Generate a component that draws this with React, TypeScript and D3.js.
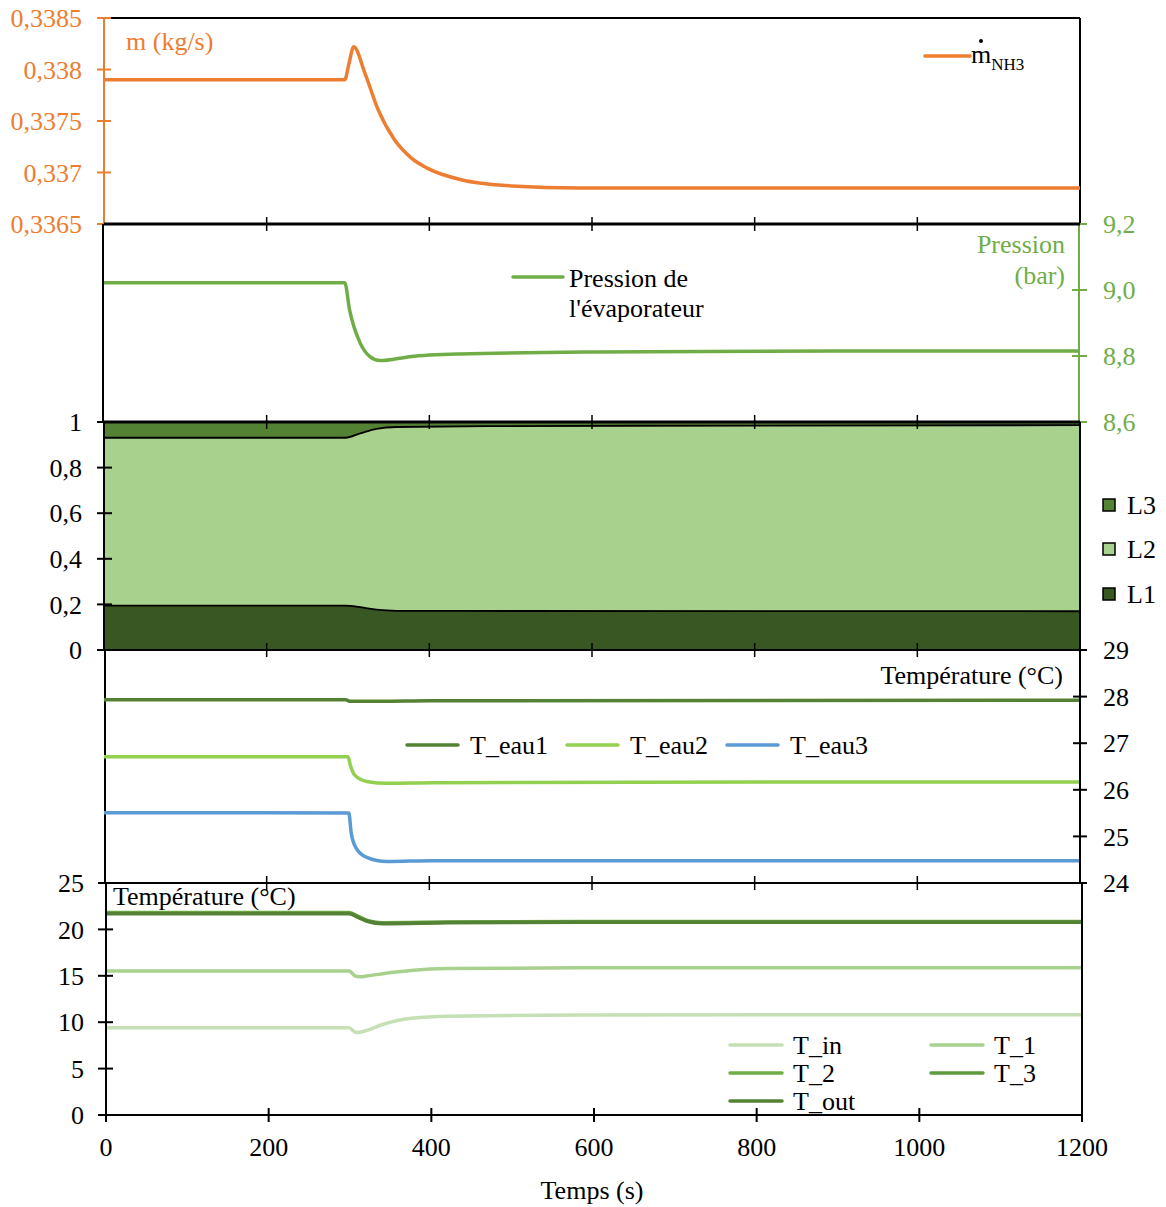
import React from 'react';
import * as d3 from 'd3';

// ---------- DATA ----------
const xTicks = [0, 200, 400, 600, 800, 1000, 1200];

const massTime = [0, 296, 301, 307, 321, 337, 357, 378, 398, 439, 501, 583, 706, 1200];
const massFlow = [0.3379, 0.3379, 0.33805, 0.33822, 0.33796, 0.33761, 0.33732, 0.33714, 0.33704, 0.33693, 0.33687, 0.33685, 0.33685, 0.33685];
const massTicks = [0.3365, 0.337, 0.3375, 0.338, 0.3385];
const massTickLabels = ['0,3365', '0,337', '0,3375', '0,338', '0,3385'];

const pressTime = [0, 296, 302, 315, 327, 339, 376, 438, 600, 900, 1200];
const pressure = [9.022, 9.022, 8.939, 8.839, 8.798, 8.786, 8.798, 8.806, 8.812, 8.815, 8.815];
const pressTicks = [8.6, 8.8, 9.0, 9.2];
const pressTickLabels = ['8,6', '8,8', '9,0', '9,2'];

const levelTime = [0, 297, 315, 335, 360, 500, 1200];
const levelL1 = [0.195, 0.195, 0.188, 0.177, 0.172, 0.171, 0.170];
const levelL2 = [0.736, 0.736, 0.762, 0.793, 0.806, 0.811, 0.816];
const levelL3 = [0.069, 0.069, 0.050, 0.030, 0.022, 0.018, 0.014];
const fracTicks = [0, 0.2, 0.4, 0.6, 0.8, 1];
const fracTickLabels = ['0', '0,2', '0,4', '0,6', '0,8', '1'];

const eau1Time = [0, 297, 303, 340, 400, 1200];
const eau1 = [27.93, 27.93, 27.90, 27.90, 27.91, 27.92];
const eau2Time = [0, 300, 303, 308, 323, 348, 405, 856, 1200];
const eau2 = [26.71, 26.71, 26.52, 26.32, 26.18, 26.14, 26.15, 26.17, 26.17];
const eau3Time = [0, 301, 304, 310, 323, 348, 405, 856, 1200];
const eau3 = [25.51, 25.50, 25.07, 24.75, 24.55, 24.46, 24.48, 24.48, 24.48];
const eauTicks = [24, 25, 26, 27, 28, 29];

const tinTime = [0, 299, 306, 310, 322, 340, 378, 419, 583, 1200];
const tin = [9.41, 9.41, 8.95, 8.9, 9.15, 9.75, 10.45, 10.65, 10.78, 10.8];
const t1Time = [0, 299, 306, 312, 322, 340, 378, 419, 583, 1200];
const t1 = [15.52, 15.52, 15.0, 14.9, 15.0, 15.23, 15.6, 15.78, 15.87, 15.87];
const tOutTime = [0, 299, 310, 322, 340, 420, 583, 1200];
const t2 = [21.82, 21.82, 21.4, 20.95, 20.72, 20.8, 20.86, 20.86];
const t3 = [21.75, 21.75, 21.35, 20.9, 20.67, 20.76, 20.82, 20.82];
const tOut = [21.68, 21.68, 21.3, 20.85, 20.62, 20.72, 20.78, 20.78];
const tempTicks = [0, 5, 10, 15, 20, 25];

// ---------- STYLE ----------
const FONT = "'Liberation Serif', 'Times New Roman', serif";
const FS = 26;
const ORANGE = '#ED7D31';
const PGREEN = '#70AD47';
const C_L1 = '#385723';
const C_L2 = '#A9D18E';
const C_L3 = '#548235';
const C_EAU1 = '#548235';
const C_EAU2 = '#92D050';
const C_EAU3 = '#5B9BD5';
const C_TIN = '#C5E0B4';
const C_T1 = '#A9D18E';
const C_T2 = '#70AD47';
const C_T3 = '#5E9A3E';
const C_TOUT = '#548235';

const W = 1166;
const H = 1207;

const xA = d3.scaleLinear().domain([0, 1200]).range([104, 1080]);
const xB = d3.scaleLinear().domain([0, 1200]).range([106, 1082]);

const yMass = d3.scaleLinear().domain([0.3365, 0.3385]).range([224, 18]);
const yPress = d3.scaleLinear().domain([8.6, 9.2]).range([422, 224]);
const yFrac = d3.scaleLinear().domain([0, 1]).range([650, 422]);
const yEau = d3.scaleLinear().domain([24, 29]).range([883, 650]);
const yTemp = d3.scaleLinear().domain([0, 25]).range([1115, 883]);

function linePath(times: number[], vals: number[], xs: any, ys: any) {
  const pts = times.map((t, i) => [t, vals[i]] as [number, number]);
  return d3.line<[number, number]>()
    .x(d => xs(d[0]))
    .y(d => ys(d[1]))
    .curve(d3.curveMonotoneX)(pts) || '';
}

function XTickMarks({ y, xs }: { y: number; xs: any }) {
  return (
    <g>
      {xTicks.slice(1, -1).map(t => (
        <line key={t} x1={xs(t)} x2={xs(t)} y1={y - 7} y2={y + 7} stroke="#000" strokeWidth={1.5} />
      ))}
    </g>
  );
}

export default function App() {
  const stackData = levelTime.map((t, i) => ({ t, L1: levelL1[i], L2: levelL2[i], L3: levelL3[i] }));
  const stacked = d3.stack<any>().keys(['L1', 'L2', 'L3'])(stackData);
  const area = d3.area<any>()
    .x(d => xA(d.data.t))
    .y0(d => yFrac(d[0]))
    .y1(d => yFrac(d[1]))
    .curve(d3.curveMonotoneX);
  const topLine = d3.line<any>()
    .x(d => xA(d.data.t))
    .y(d => yFrac(d[1]))
    .curve(d3.curveMonotoneX);
  const stackColors: Record<string, string> = { L1: C_L1, L2: C_L2, L3: C_L3 };

  const textStyle = { fontFamily: FONT, fontSize: FS };

  return (
    <svg width={W} height={H} style={{ position: 'absolute', left: 0, top: 0, background: '#fff' }}>
      <rect x={0} y={0} width={W} height={H} fill="#fff" />

      {/* ===== Panel 1: mass flow ===== */}
      <line x1={104} x2={1080} y1={18} y2={18} stroke="#000" strokeWidth={2} />
      <line x1={1080} x2={1080} y1={18} y2={224} stroke="#000" strokeWidth={2} />
      <path d={linePath(massTime, massFlow, xA, yMass)} fill="none" stroke={ORANGE} strokeWidth={3.5} />
      <line x1={104} x2={104} y1={18} y2={224} stroke={ORANGE} strokeWidth={2} />
      {massTicks.map((v, i) => (
        <g key={v}>
          <line x1={97} x2={111} y1={yMass(v)} y2={yMass(v)} stroke={ORANGE} strokeWidth={2} />
          <text x={82} y={yMass(v)} dy="0.35em" textAnchor="end" fill={ORANGE} style={textStyle}>{massTickLabels[i]}</text>
        </g>
      ))}
      <text x={126} y={41} dy="0.35em" fill={ORANGE} style={textStyle}>m (kg/s)</text>
      {/* legend m_NH3 */}
      <line x1={925} x2={970} y1={56} y2={56} stroke={ORANGE} strokeWidth={3.5} strokeLinecap="round" />
      <text x={971} y={63} style={textStyle} fill="#000">m<tspan dy={7} fontSize={17}>NH3</tspan></text>
      <circle cx={981} cy={41} r={2} fill="#000" />

      {/* ===== Panel 2: pressure ===== */}
      <line x1={103} x2={103} y1={224} y2={422} stroke="#000" strokeWidth={2} />
      <path d={linePath(pressTime, pressure, xA, yPress)} fill="none" stroke={PGREEN} strokeWidth={3.5} />
      <line x1={1079} x2={1079} y1={224} y2={422} stroke={PGREEN} strokeWidth={2} />
      {pressTicks.map((v, i) => (
        <g key={v}>
          <line x1={1072} x2={1087} y1={yPress(v)} y2={yPress(v)} stroke={PGREEN} strokeWidth={2} />
          <text x={1103} y={yPress(v)} dy="0.35em" textAnchor="start" fill={PGREEN} style={textStyle}>{pressTickLabels[i]}</text>
        </g>
      ))}
      <text x={1065} y={244} dy="0.35em" textAnchor="end" fill={PGREEN} style={textStyle}>Pression</text>
      <text x={1065} y={275} dy="0.35em" textAnchor="end" fill={PGREEN} style={textStyle}>(bar)</text>
      <line x1={513} x2={563} y1={277} y2={277} stroke={PGREEN} strokeWidth={3.5} strokeLinecap="round" />
      <text x={569} y={278} dy="0.35em" style={textStyle}>Pression de</text>
      <text x={569} y={308} dy="0.35em" style={textStyle}>l'évaporateur</text>
      <line x1={104} x2={1080} y1={224} y2={224} stroke="#000" strokeWidth={3} />
      <XTickMarks y={224} xs={xA} />

      {/* ===== Panel 3: stacked levels ===== */}
      {stacked.map(s => (
        <path key={s.key} d={area(s as any) || ''} fill={stackColors[s.key]} stroke="none" />
      ))}
      {stacked.slice(0, 2).map(s => (
        <path key={'b' + s.key} d={topLine(s as any) || ''} fill="none" stroke="#000" strokeWidth={1.8} />
      ))}
      <line x1={104} x2={1080} y1={422} y2={422} stroke="#000" strokeWidth={3} />
      <line x1={104} x2={1080} y1={650} y2={650} stroke="#000" strokeWidth={2} />
      <line x1={104} x2={104} y1={422} y2={650} stroke="#000" strokeWidth={2} />
      <line x1={1080} x2={1080} y1={422} y2={650} stroke="#000" strokeWidth={2} />
      {fracTicks.map((v, i) => (
        <g key={v}>
          <line x1={97} x2={112} y1={yFrac(v)} y2={yFrac(v)} stroke="#000" strokeWidth={2} />
          <text x={82} y={yFrac(v)} dy="0.35em" textAnchor="end" style={textStyle}>{fracTickLabels[i]}</text>
        </g>
      ))}
      <XTickMarks y={422} xs={xA} />
      <XTickMarks y={650} xs={xA} />
      {[['L3', C_L3, 505], ['L2', C_L2, 549], ['L1', C_L1, 594]].map(([k, c, y]) => (
        <g key={k as string}>
          <rect x={1103} y={(y as number) - 6} width={12} height={12} fill={c as string} stroke="#000" strokeWidth={1.5} />
          <text x={1127} y={y as number} dy="0.35em" style={textStyle}>{k}</text>
        </g>
      ))}

      {/* ===== Panel 4: water temperatures ===== */}
      <line x1={105} x2={105} y1={650} y2={883} stroke="#000" strokeWidth={2} />
      <path d={linePath(eau1Time, eau1, xA, yEau)} fill="none" stroke={C_EAU1} strokeWidth={3.5} />
      <path d={linePath(eau2Time, eau2, xA, yEau)} fill="none" stroke={C_EAU2} strokeWidth={3.5} />
      <path d={linePath(eau3Time, eau3, xA, yEau)} fill="none" stroke={C_EAU3} strokeWidth={3.5} />
      <line x1={1080} x2={1080} y1={650} y2={883} stroke="#000" strokeWidth={2} />
      {eauTicks.map(v => (
        <g key={v}>
          <line x1={1073} x2={1087} y1={yEau(v)} y2={yEau(v)} stroke="#000" strokeWidth={2} />
          <text x={1103} y={yEau(v)} dy="0.35em" textAnchor="start" style={textStyle}>{v}</text>
        </g>
      ))}
      <text x={1063} y={675} dy="0.35em" textAnchor="end" style={textStyle}>Température (°C)</text>
      {[['T_eau1', C_EAU1, 407], ['T_eau2', C_EAU2, 567], ['T_eau3', C_EAU3, 727]].map(([k, c, x]) => (
        <g key={k as string}>
          <line x1={x as number} x2={(x as number) + 51} y1={745} y2={745} stroke={c as string} strokeWidth={3.5} strokeLinecap="round" />
          <text x={(x as number) + 63} y={745} dy="0.35em" style={textStyle}>{k}</text>
        </g>
      ))}

      {/* ===== Panel 5: refrigerant temperatures ===== */}
      <path d={linePath(tinTime, tin, xB, yTemp)} fill="none" stroke={C_TIN} strokeWidth={3.5} />
      <path d={linePath(t1Time, t1, xB, yTemp)} fill="none" stroke={C_T1} strokeWidth={3.5} />
      <path d={linePath(tOutTime, t2, xB, yTemp)} fill="none" stroke={C_T2} strokeWidth={3.5} />
      <path d={linePath(tOutTime, t3, xB, yTemp)} fill="none" stroke={C_T3} strokeWidth={3.5} />
      <path d={linePath(tOutTime, tOut, xB, yTemp)} fill="none" stroke={C_TOUT} strokeWidth={3.5} />
      <line x1={104} x2={1082} y1={883} y2={883} stroke="#000" strokeWidth={2} />
      <line x1={1082} x2={1082} y1={883} y2={1115} stroke="#000" strokeWidth={2} />
      <line x1={106} x2={106} y1={883} y2={1115} stroke="#000" strokeWidth={2} />
      <line x1={106} x2={1082} y1={1115} y2={1115} stroke="#000" strokeWidth={2} />
      {tempTicks.map(v => (
        <g key={v}>
          <line x1={98} x2={113} y1={yTemp(v)} y2={yTemp(v)} stroke="#000" strokeWidth={2} />
          <text x={84} y={yTemp(v)} dy="0.35em" textAnchor="end" style={textStyle}>{v}</text>
        </g>
      ))}
      <XTickMarks y={883} xs={xA} />
      {xTicks.map(t => (
        <g key={t}>
          <line x1={xB(t)} x2={xB(t)} y1={1108} y2={1122} stroke="#000" strokeWidth={2} />
          <text x={xB(t)} y={1147} dy="0.35em" textAnchor="middle" style={textStyle}>{t}</text>
        </g>
      ))}
      <text x={113} y={896} dy="0.35em" style={textStyle}>Température (°C)</text>
      <text x={592} y={1190} dy="0.35em" textAnchor="middle" style={textStyle}>Temps (s)</text>
      {[
        ['T_in', C_TIN, 730, 1045],
        ['T_1', C_T1, 931, 1045],
        ['T_2', C_T2, 730, 1073],
        ['T_3', C_T3, 931, 1073],
        ['T_out', C_TOUT, 730, 1101],
      ].map(([k, c, x, y]) => (
        <g key={k as string}>
          <line x1={x as number} x2={(x as number) + 52} y1={y as number} y2={y as number} stroke={c as string} strokeWidth={3.5} strokeLinecap="round" />
          <text x={(x as number) + 63} y={y as number} dy="0.35em" style={textStyle}>{k}</text>
        </g>
      ))}
    </svg>
  );
}
